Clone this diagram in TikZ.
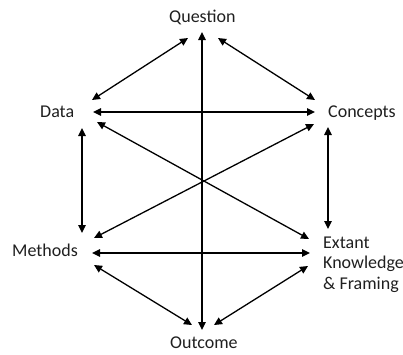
\documentclass[tikz,border=0pt]{standalone}
\usepackage{fontspec}
\setmainfont{Carlito}
\usetikzlibrary{arrows.meta}
\begin{document}
\begin{tikzpicture}[x=1pt,y=-1pt,
  lbl/.style={inner sep=0pt, anchor=base west, align=left,
    font=\fontsize{18}{20.5}\selectfont, text=black!88},
  link/.style={draw=black, line width=1.3pt,
    {Triangle[length=8pt,width=7.5pt]}-{Triangle[length=8pt,width=7.5pt]}}]
\useasboundingbox (0,0) rectangle (403,354);

% concept labels (a multi-line label sits on its last baseline)
\node[lbl] (question) at (169,22)  {Question};
\node[lbl] (data)     at (40,117.5) {Data};
\node[lbl] (concepts) at (328,117.5) {Concepts};
\node[lbl] (methods)  at (12,256)  {Methods};
\node[lbl] (extant)   at (323,289) {Extant\\Knowledge\\\& Framing};
\node[lbl] (outcome)  at (170,348.5) {Outcome};

% connector ports around each label
\coordinate (qD) at (188,38);   \coordinate (qC) at (218,38);
\coordinate (qO) at (202,32);
\coordinate (dQ) at (92,100);   \coordinate (dC) at (93,112);
\coordinate (dE) at (97,122);   \coordinate (dM) at (82,128);
\coordinate (cQ) at (315,100);  \coordinate (cD) at (315,112);
\coordinate (cM) at (314,124);  \coordinate (cE) at (328,127);
\coordinate (mD) at (82,233);   \coordinate (mC) at (94,238);
\coordinate (mE) at (92,253);   \coordinate (mO) at (94,265);
\coordinate (eC) at (328,229);  \coordinate (eD) at (309,239);
\coordinate (eM) at (310,253);  \coordinate (eO) at (308,266);
\coordinate (oM) at (192,325);  \coordinate (oE) at (214,325);
\coordinate (oQ) at (202,330);

% relations
\draw[link] (qD) -- (dQ);
\draw[link] (qC) -- (cQ);
\draw[link] (qO) -- (oQ);
\draw[link] (dC) -- (cD);
\draw[link] (dE) -- (eD);
\draw[link] (cM) -- (mC);
\draw[link] (dM) -- (mD);
\draw[link] (cE) -- (eC);
\draw[link] (mE) -- (eM);
\draw[link] (mO) -- (oM);
\draw[link] (eO) -- (oE);
\end{tikzpicture}
\end{document}
